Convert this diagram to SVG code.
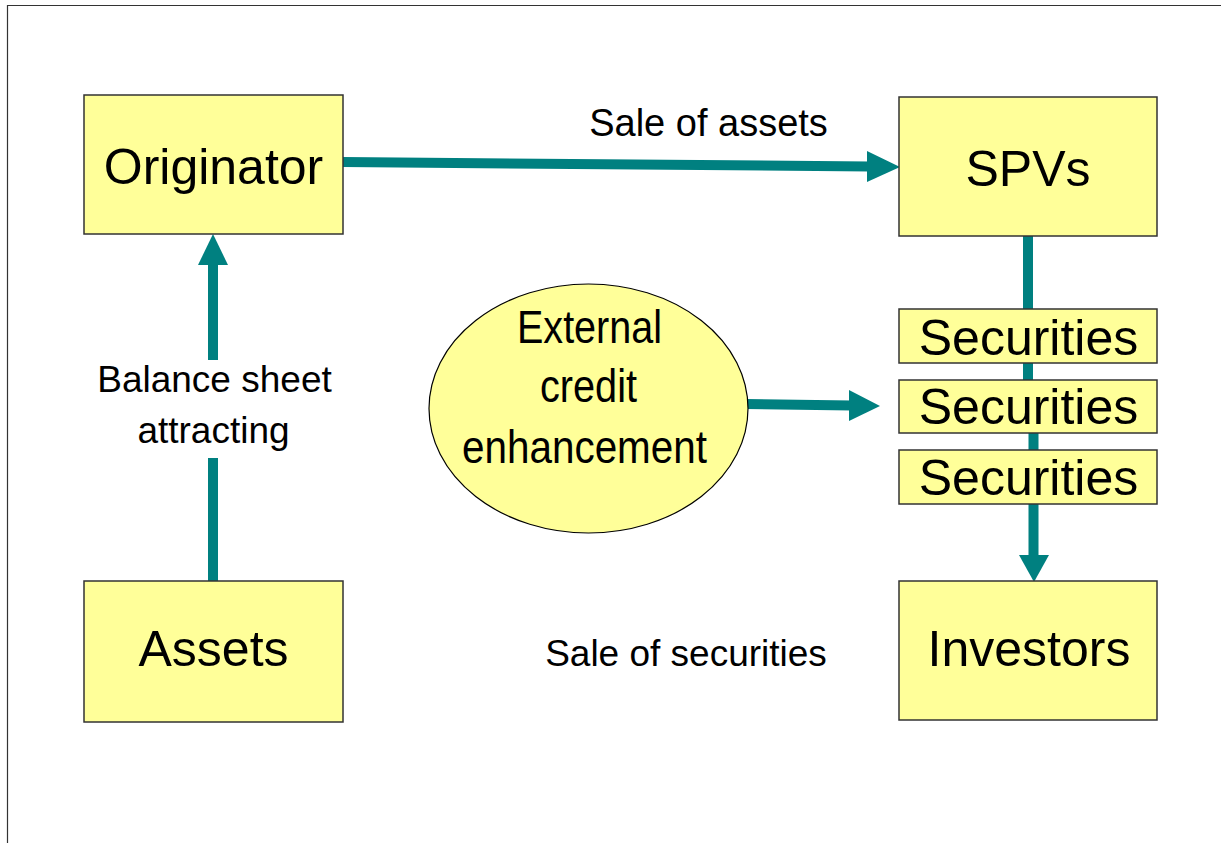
<svg xmlns="http://www.w3.org/2000/svg" width="1221" height="843" viewBox="0 0 1221 843">
<style>
.box{fill:#FFFF99;stroke:#333333;stroke-width:1.5}
.lbl{font-family:"Liberation Sans",Arial,sans-serif;fill:#000;text-anchor:middle}
.big{font-size:50px}
.mid{font-size:37px}
.conn{stroke:#008080;stroke-width:10;fill:none;stroke-linejoin:round}
.head{fill:#008080}
</style>
<rect width="1221" height="843" fill="#ffffff"/>
<path d="M7.5,843 V5.5 H1221" fill="none" stroke="#333333" stroke-width="1.2"/>
<g id="connectors">
<line class="conn" x1="343" y1="162" x2="870" y2="166.5"/>
<polygon class="head" points="867,151 900,167 867,182"/>
<line class="conn" x1="213" y1="262" x2="213" y2="360"/>
<line class="conn" x1="213" y1="458" x2="213" y2="581"/>
<polygon class="head" points="198,265 213,234 228,265"/>
<polyline class="conn" points="1028,236 1028,388 1033.5,425 1033.5,558"/>
<polygon class="head" points="1019,555 1049,555 1034,582"/>
<line class="conn" x1="746" y1="404" x2="852" y2="405.5"/>
<polygon class="head" points="849,390 880,406 849,421"/>
</g>
<g id="originator">
<rect class="box" x="84" y="95" width="259" height="139"/>
<text class="lbl big" x="213.5" y="184">Originator</text>
</g>
<g id="spvs">
<rect class="box" x="899" y="97" width="258" height="139"/>
<text class="lbl big" x="1028" y="186" font-size="49">SPVs</text>
</g>
<g id="assets">
<rect class="box" x="84" y="581" width="259" height="141"/>
<text class="lbl big" x="213.5" y="666">Assets</text>
</g>
<g id="investors">
<rect class="box" x="899" y="581" width="258" height="139"/>
<text class="lbl big" x="1029" y="666" font-size="49">Investors</text>
</g>
<g id="securities1">
<rect class="box" x="899" y="309" width="258" height="54"/>
<text class="lbl big" x="1028.5" y="355">Securities</text>
</g>
<g id="securities2">
<rect class="box" x="899" y="380" width="258" height="53"/>
<text class="lbl big" x="1028.5" y="424">Securities</text>
</g>
<g id="securities3">
<rect class="box" x="899" y="450" width="258" height="54"/>
<text class="lbl big" x="1028.5" y="495">Securities</text>
</g>
<g id="external-credit-enhancement">
<ellipse cx="588.5" cy="408.5" rx="159.5" ry="124.5" fill="#FFFF99" stroke="#000" stroke-width="1.2"/>
<text class="lbl" font-size="46" x="589.5" y="343" textLength="145" lengthAdjust="spacingAndGlyphs">External</text>
<text class="lbl" font-size="46" x="588.5" y="402" textLength="97" lengthAdjust="spacingAndGlyphs">credit</text>
<text class="lbl" font-size="46" x="584.5" y="463" textLength="245" lengthAdjust="spacingAndGlyphs">enhancement</text>
</g>
<g id="labels">
<text class="lbl" font-size="38" x="708.5" y="136">Sale of assets</text>
<text class="lbl" font-size="37" x="214.5" y="392">Balance sheet</text>
<text class="lbl" font-size="37" x="213.5" y="443">attracting</text>
<text class="lbl mid" x="686" y="666">Sale of securities</text>
</g>
</svg>
